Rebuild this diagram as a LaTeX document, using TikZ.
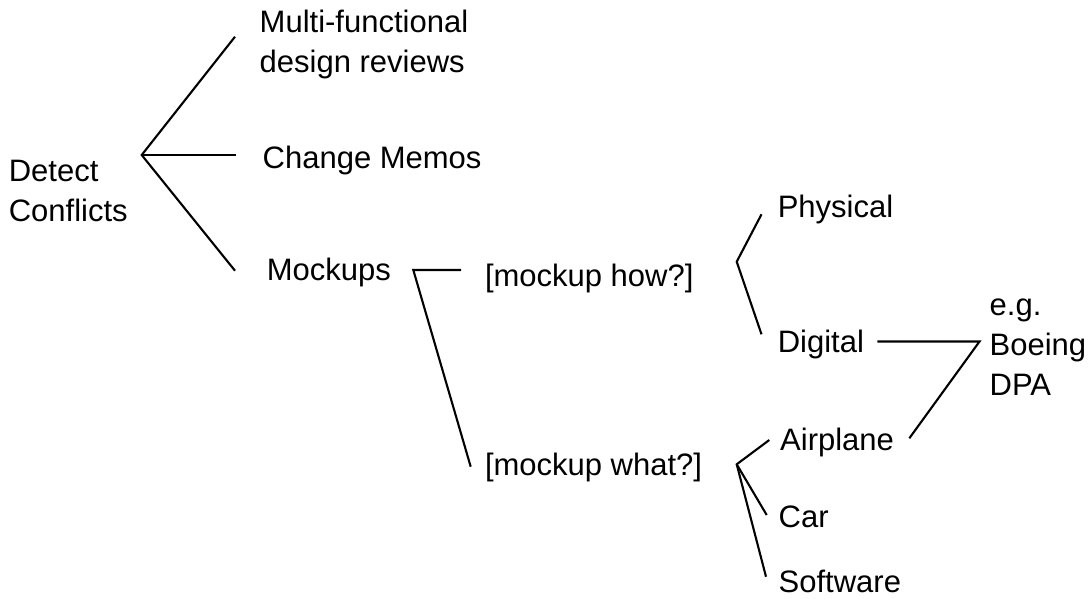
\documentclass[tikz,border=0pt]{standalone}
\usepackage{fontspec}
\setmainfont{Liberation Sans}
\begin{document}
\begin{tikzpicture}[x=1pt,y=-1pt,
  lbl/.style={anchor=base west,inner sep=0pt,align=left,font=\fontsize{31}{40}\selectfont},
  conn/.style={line width=2.1pt}]
\useasboundingbox (0,0) rectangle (1091,598);
% text nodes (base = baseline of last line)
\node[lbl] (dc) at (8.6,221) {Detect\\Conflicts};
\node[lbl] (mf) at (259.5,72) {Multi-functional\\design reviews};
\node[lbl] (cm) at (262.5,168) {Change Memos};
\node[lbl] (mk) at (266.7,280.5) {Mockups};
\node[lbl] (how) at (484.8,286.5) {[mockup how?]};
\node[lbl] (what) at (484.8,475.5) {[mockup what?]};
\node[lbl] (ph) at (777.6,217.8) {Physical};
\node[lbl] (dg) at (777.6,352) {Digital};
\node[lbl] (ap) at (780,450.5) {Airplane};
\node[lbl] (car) at (778.5,527) {Car};
\node[lbl] (sw) at (778.5,592) {Software};
\node[lbl] (dpa) at (989.5,395.5) {e.g.\\Boeing\\DPA};
% junction and end coordinates
\coordinate (j1) at (141.7,155);
\coordinate (e1a) at (235,36.7);
\coordinate (e1b) at (236,155);
\coordinate (e1c) at (235,270.7);
\coordinate (j2) at (413.3,270);
\coordinate (e2a) at (461,270);
\coordinate (e2b) at (470.7,466.7);
\coordinate (j3) at (736.7,261.7);
\coordinate (e3a) at (761.5,214.3);
\coordinate (e3b) at (761.5,334.3);
\coordinate (j4) at (736.7,464.3);
\coordinate (e4a) at (769.3,440);
\coordinate (e4b) at (766.7,515);
\coordinate (e4c) at (766,576.7);
\coordinate (j5) at (979.5,341.5);
\coordinate (e5a) at (877.3,341.5);
\coordinate (e5b) at (909.3,438.3);
% connectors
\draw[conn] (e1a) -- (j1) -- (e1c);
\draw[conn] (j1) -- (e1b);
\draw[conn] (e2a) -- (j2) -- (e2b);
\draw[conn] (e3a) -- (j3) -- (e3b);
\draw[conn] (e4a) -- (j4) -- (e4c);
\draw[conn] (j4) -- (e4b);
\draw[conn] (e5a) -- (j5) -- (e5b);
\end{tikzpicture}
\end{document}
